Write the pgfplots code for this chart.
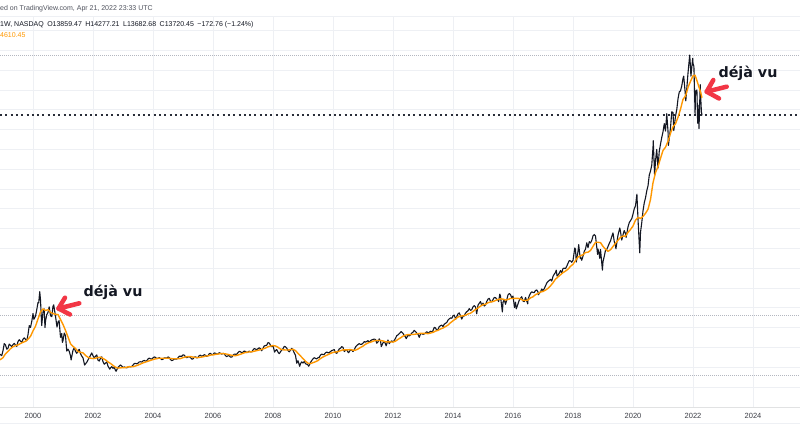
\documentclass[border=0pt]{standalone}
\usepackage{pgfplots}
\usepackage{pgfplotstable}
\pgfplotsset{compat=1.18}
\usepackage{fontspec}
\setmainfont{Liberation Sans}
\newfontfamily\annfont{DejaVu Sans}
\definecolor{tvblack}{RGB}{19,23,34}
\definecolor{tvorange}{RGB}{255,152,0}
\definecolor{tvred}{RGB}{242,54,69}
\definecolor{gridc}{RGB}{238,240,244}
\definecolor{dotgray}{RGB}{180,183,192}
\definecolor{labc}{RGB}{60,62,70}
\definecolor{hdrc}{RGB}{80,83,94}
\definecolor{pricec}{RGB}{42,46,57}

\pgfplotstableread{
t v
1998.833 1450
1998.875 1679
1998.917 1630
1998.958 1581
1999.000 1836
1999.042 2192
1999.083 2128
1999.125 1908
1999.167 1967
1999.208 2169
1999.250 2106
1999.292 2043
1999.333 2140
1999.375 2204
1999.417 2110
1999.458 2047
1999.500 2296
1999.542 2388
1999.583 2318
1999.625 2248
1999.667 2411
1999.708 2483
1999.750 2407
1999.792 2335
1999.833 2640
1999.875 3099
1999.917 3009
1999.958 3300
2000.000 3708
2000.030 3420
2000.083 3570
2000.125 3900
2000.167 4266
2000.190 4250
2000.225 4816
2000.250 4397
2000.290 3100
2000.333 3774
2000.370 3950
2000.400 3000
2000.417 3324
2000.458 3650
2000.500 3763
2000.540 4050
2000.583 3609
2000.625 3550
2000.667 4078
2000.690 4150
2000.750 3571
2000.800 3030
2000.833 3283
2000.870 3350
2000.917 2507
2000.958 2700
2000.980 2250
2001.000 2341
2001.042 2723
2001.083 2593
2001.125 1813
2001.167 1908
2001.208 1800
2001.250 1573
2001.270 1364
2001.333 1855
2001.375 1980
2001.417 1800
2001.458 1700
2001.500 1830
2001.542 1900
2001.583 1684
2001.625 1560
2001.667 1469
2001.720 1110
2001.750 1168
2001.792 1250
2001.833 1364
2001.875 1480
2001.917 1597
2001.958 1720
2002.000 1577
2002.042 1480
2002.083 1550
2002.125 1620
2002.167 1359
2002.208 1310
2002.250 1452
2002.292 1520
2002.333 1277
2002.375 1150
2002.417 1208
2002.458 1270
2002.500 1051
2002.560 900
2002.583 962
2002.625 1030
2002.667 942
2002.708 1000
2002.750 832
2002.770 795
2002.833 989
2002.875 1050
2002.917 1116
2002.958 1060
2003.000 984
2003.042 1010
2003.083 985
2003.125 970
2003.167 1005
2003.208 1037
2003.250 1018
2003.292 1035
2003.333 1106
2003.375 1181
2003.417 1197
2003.458 1169
2003.500 1201
2003.542 1269
2003.583 1274
2003.625 1262
2003.667 1315
2003.708 1342
2003.750 1303
2003.792 1326
2003.833 1416
2003.875 1456
2003.917 1424
2003.958 1410
2004.000 1468
2004.042 1518
2004.083 1494
2004.125 1434
2004.167 1448
2004.208 1479
2004.250 1438
2004.292 1384
2004.333 1401
2004.375 1470
2004.417 1467
2004.458 1454
2004.500 1516
2004.542 1486
2004.583 1383
2004.625 1335
2004.667 1355
2004.708 1418
2004.750 1412
2004.792 1408
2004.833 1475
2004.875 1553
2004.917 1554
2004.958 1548
2005.000 1621
2005.042 1609
2005.083 1519
2005.125 1477
2005.167 1511
2005.208 1534
2005.250 1483
2005.292 1414
2005.333 1417
2005.375 1508
2005.417 1525
2005.458 1471
2005.500 1493
2005.542 1588
2005.583 1605
2005.625 1552
2005.667 1579
2005.708 1630
2005.750 1601
2005.792 1549
2005.833 1577
2005.875 1680
2005.917 1700
2005.958 1631
2006.000 1645
2006.042 1718
2006.083 1706
2006.125 1649
2006.167 1675
2006.208 1731
2006.250 1703
2006.292 1659
2006.333 1700
2006.375 1681
2006.417 1579
2006.458 1538
2006.500 1575
2006.542 1581
2006.583 1510
2006.625 1511
2006.667 1590
2006.708 1663
2006.750 1654
2006.792 1653
2006.833 1736
2006.875 1802
2006.917 1779
2006.958 1724
2007.000 1757
2007.042 1818
2007.083 1791
2007.125 1735
2007.167 1767
2007.208 1814
2007.250 1772
2007.292 1775
2007.333 1868
2007.375 1940
2007.417 1918
2007.458 1878
2007.500 1934
2007.542 1982
2007.583 1933
2007.625 1830
2007.667 1958
2007.708 2076
2007.750 2092
2007.792 2111
2007.833 2238
2007.875 2222
2007.917 2098
2007.958 2040
2008.000 2085
2008.055 1760
2008.083 1842
2008.125 1891
2008.167 1760
2008.208 1682
2008.250 1781
2008.292 1870
2008.333 1932
2008.375 2050
2008.417 2030
2008.458 1960
2008.500 1837
2008.542 1780
2008.583 1860
2008.625 1950
2008.667 1865
2008.708 1720
2008.750 1597
2008.792 1200
2008.833 1329
2008.890 1043
2008.917 1180
2008.958 1270
2009.000 1212
2009.042 1290
2009.083 1176
2009.125 1150
2009.167 1106
2009.190 1050
2009.250 1237
2009.292 1340
2009.333 1418
2009.375 1480
2009.417 1442
2009.458 1420
2009.500 1477
2009.542 1500
2009.583 1612
2009.625 1660
2009.667 1633
2009.708 1650
2009.750 1724
2009.792 1770
2009.833 1725
2009.875 1730
2009.917 1792
2009.958 1840
2010.000 1860
2010.042 1890
2010.083 1741
2010.125 1700
2010.167 1813
2010.208 1920
2010.250 1957
2010.292 2040
2010.333 2002
2010.375 1790
2010.417 1858
2010.458 1890
2010.500 1756
2010.520 1730
2010.583 1876
2010.625 1860
2010.667 1791
2010.708 1880
2010.750 2019
2010.792 2090
2010.833 2145
2010.875 2190
2010.917 2149
2010.958 2160
2011.000 2218
2011.042 2290
2011.083 2266
2011.125 2300
2011.167 2340
2011.208 2260
2011.250 2338
2011.292 2380
2011.333 2402
2011.375 2420
2011.417 2398
2011.458 2210
2011.500 2279
2011.542 2430
2011.583 2315
2011.610 2040
2011.667 2233
2011.708 2300
2011.750 2180
2011.770 2080
2011.833 2371
2011.875 2190
2011.917 2283
2011.958 2330
2012.000 2278
2012.042 2350
2012.083 2459
2012.125 2590
2012.167 2635
2012.208 2700
2012.250 2755
2012.270 2800
2012.333 2712
2012.375 2600
2012.417 2524
2012.440 2440
2012.500 2615
2012.542 2580
2012.583 2632
2012.625 2720
2012.667 2772
2012.708 2860
2012.750 2800
2012.792 2720
2012.833 2660
2012.875 2510
2012.917 2677
2012.958 2700
2013.000 2661
2013.042 2680
2013.083 2731
2013.125 2790
2013.167 2738
2013.208 2760
2013.250 2818
2013.292 2780
2013.333 2848
2013.375 3010
2013.417 2986
2013.458 2860
2013.500 2910
2013.542 3050
2013.583 3094
2013.625 3130
2013.667 3051
2013.708 3170
2013.750 3218
2013.792 3260
2013.833 3372
2013.875 3440
2013.917 3488
2013.958 3470
2014.000 3592
2014.042 3630
2014.090 3420
2014.167 3698
2014.208 3740
2014.250 3596
2014.292 3430
2014.333 3572
2014.375 3590
2014.417 3735
2014.458 3800
2014.500 3849
2014.542 3960
2014.583 3871
2014.625 3900
2014.667 4052
2014.708 4110
2014.750 4050
2014.790 3700
2014.833 4131
2014.875 4230
2014.917 4317
2014.958 4120
2015.000 4236
2015.042 4090
2015.083 4150
2015.125 4320
2015.167 4439
2015.208 4480
2015.250 4333
2015.292 4300
2015.333 4415
2015.375 4520
2015.417 4509
2015.458 4440
2015.500 4397
2015.520 4310
2015.560 4690
2015.583 4589
2015.645 3790
2015.667 4274
2015.708 4420
2015.750 4181
2015.792 4400
2015.833 4648
2015.875 4720
2015.917 4664
2015.958 4500
2016.000 4593
2016.050 4010
2016.083 4280
2016.110 3950
2016.167 4202
2016.208 4380
2016.250 4484
2016.292 4560
2016.333 4341
2016.375 4310
2016.417 4524
2016.490 4200
2016.500 4418
2016.542 4600
2016.583 4731
2016.625 4810
2016.667 4772
2016.708 4770
2016.750 4875
2016.792 4900
2016.833 4801
2016.845 4660
2016.917 4810
2016.958 4950
2017.000 4864
2017.042 4970
2017.083 5107
2017.125 5250
2017.167 5331
2017.208 5380
2017.250 5436
2017.292 5350
2017.333 5584
2017.375 5700
2017.417 5788
2017.440 5900
2017.470 5600
2017.500 5647
2017.542 5750
2017.583 5880
2017.625 5760
2017.667 5988
2017.708 6000
2017.750 5979
2017.792 6100
2017.833 6248
2017.875 6380
2017.917 6368
2017.958 6300
2018.000 6397
2018.060 7020
2018.083 6950
2018.110 6310
2018.167 6855
2018.190 7190
2018.240 6500
2018.250 6581
2018.290 6400
2018.333 6605
2018.375 6850
2018.417 6967
2018.458 7280
2018.500 7040
2018.542 7340
2018.583 7272
2018.625 7400
2018.667 7632
2018.708 7700
2018.750 7628
2018.792 7050
2018.820 6700
2018.833 6968
2018.875 6700
2018.890 6500
2018.917 6949
2018.980 5900
2019.000 6330
2019.042 6600
2019.083 6906
2019.125 6950
2019.167 7097
2019.208 7250
2019.250 7378
2019.292 7600
2019.333 7781
2019.375 7350
2019.417 7128
2019.430 6980
2019.500 7671
2019.560 8030
2019.583 7848
2019.625 7420
2019.667 7692
2019.708 7900
2019.750 7750
2019.770 7550
2019.833 8084
2019.875 8300
2019.917 8403
2019.958 8500
2020.000 8733
2020.042 9000
2020.083 9150
2020.130 9736
2020.167 8462
2020.225 6771
2020.250 7813
2020.292 8300
2020.333 8890
2020.375 9300
2020.417 9555
2020.458 9900
2020.500 10157
2020.542 10700
2020.583 10905
2020.625 11200
2020.667 12110
2020.675 12440
2020.720 10680
2020.750 11418
2020.790 12000
2020.833 11052
2020.875 11900
2020.917 12268
2020.958 12600
2021.000 12888
2021.042 13300
2021.083 12925
2021.125 13800
2021.167 12909
2021.180 12200
2021.250 13091
2021.292 13900
2021.333 13860
2021.360 12950
2021.417 13687
2021.458 14000
2021.500 14554
2021.542 14900
2021.583 14959
2021.625 15200
2021.667 15583
2021.690 15700
2021.750 14689
2021.760 14450
2021.833 15850
2021.890 16764
2021.917 16135
2021.930 15700
2021.990 16600
2022.000 16320
2022.030 16200
2022.070 13730
2022.083 14930
2022.130 15000
2022.155 13320
2022.167 14237
2022.200 13050
2022.240 15265
2022.250 14839
2022.280 13900
2022.300 13720
}\pricedata

\pgfplotstableread{
t v
1998.833 1333
1998.917 1391
1999.000 1480
1999.083 1678
1999.167 1802
1999.250 1933
1999.333 2035
1999.417 2090
1999.500 2124
1999.583 2194
1999.667 2255
1999.750 2308
1999.833 2414
1999.917 2557
2000.000 2835
2000.083 3067
2000.167 3439
2000.250 3790
2000.333 3943
2000.417 3866
2000.500 3905
2000.583 3773
2000.667 3710
2000.750 3669
2000.833 3661
2000.917 3410
2001.000 3156
2001.083 2859
2001.167 2526
2001.250 2184
2001.333 2054
2001.417 1946
2001.500 1793
2001.583 1748
2001.667 1728
2001.750 1590
2001.833 1503
2001.917 1456
2002.000 1435
2002.083 1451
2002.167 1489
2002.250 1507
2002.333 1443
2002.417 1369
2002.500 1269
2002.583 1190
2002.667 1088
2002.750 999
2002.833 955
2002.917 968
2003.000 973
2003.083 981
2003.167 1016
2003.250 1022
2003.333 1020
2003.417 1062
2003.500 1105
2003.583 1159
2003.667 1219
2003.750 1258
2003.833 1302
2003.917 1346
2004.000 1385
2004.083 1421
2004.167 1450
2004.250 1454
2004.333 1450
2004.417 1450
2004.500 1454
2004.583 1441
2004.667 1424
2004.750 1427
2004.833 1428
2004.917 1436
2005.000 1483
2005.083 1516
2005.167 1536
2005.250 1538
2005.333 1510
2005.417 1491
2005.500 1486
2005.583 1505
2005.667 1524
2005.750 1561
2005.833 1571
2005.917 1612
2006.000 1620
2006.083 1646
2006.167 1661
2006.250 1686
2006.333 1686
2006.417 1673
2006.500 1646
2006.583 1613
2006.667 1591
2006.750 1582
2006.833 1613
2006.917 1654
2007.000 1703
2007.083 1743
2007.167 1766
2007.250 1773
2007.333 1791
2007.417 1823
2007.500 1852
2007.583 1885
2007.667 1922
2007.750 1967
2007.833 2031
2007.917 2064
2008.000 2094
2008.083 2071
2008.167 2005
2008.250 1913
2008.333 1880
2008.417 1869
2008.500 1868
2008.583 1888
2008.667 1905
2008.750 1838
2008.833 1698
2008.917 1566
2009.000 1437
2009.083 1299
2009.167 1201
2009.250 1182
2009.333 1230
2009.417 1276
2009.500 1336
2009.583 1437
2009.667 1516
2009.750 1578
2009.833 1634
2009.917 1697
2010.000 1747
2010.083 1768
2010.167 1786
2010.250 1833
2010.333 1875
2010.417 1874
2010.500 1877
2010.583 1890
2010.667 1857
2010.750 1860
2010.833 1917
2010.917 1996
2011.000 2064
2011.083 2159
2011.167 2224
2011.250 2262
2011.333 2313
2011.417 2349
2011.500 2351
2011.583 2346
2011.667 2325
2011.750 2281
2011.833 2276
2011.917 2276
2012.000 2269
2012.083 2314
2012.167 2405
2012.250 2482
2012.333 2568
2012.417 2617
2012.500 2648
2012.583 2648
2012.667 2651
2012.750 2669
2012.833 2696
2012.917 2708
2013.000 2714
2013.083 2706
2013.167 2693
2013.250 2725
2013.333 2759
2013.417 2824
2013.500 2860
2013.583 2931
2013.667 2978
2013.750 3052
2013.833 3129
2013.917 3245
2014.000 3344
2014.083 3438
2014.167 3534
2014.250 3579
2014.333 3596
2014.417 3624
2014.500 3690
2014.583 3725
2014.667 3816
2014.750 3911
2014.833 3991
2014.917 4084
2015.000 4157
2015.083 4177
2015.167 4255
2015.250 4295
2015.333 4315
2015.417 4369
2015.500 4419
2015.583 4449
2015.667 4437
2015.750 4390
2015.833 4418
2015.917 4471
2016.000 4472
2016.083 4473
2016.167 4477
2016.250 4445
2016.333 4380
2016.417 4366
2016.500 4394
2016.583 4500
2016.667 4557
2016.750 4664
2016.833 4719
2016.917 4798
2017.000 4824
2017.083 4891
2017.167 4983
2017.250 5110
2017.333 5264
2017.417 5449
2017.500 5557
2017.583 5667
2017.667 5777
2017.750 5856
2017.833 5948
2017.917 6093
2018.000 6196
2018.083 6388
2018.167 6564
2018.250 6630
2018.333 6678
2018.417 6792
2018.500 6810
2018.583 6893
2018.667 7103
2018.750 7308
2018.833 7308
2018.917 7290
2019.000 7101
2019.083 6956
2019.167 6850
2019.250 6932
2019.333 7098
2019.417 7258
2019.500 7411
2019.583 7561
2019.667 7624
2019.750 7618
2019.833 7809
2019.917 7955
2020.000 8132
2020.083 8424
2020.167 8566
2020.250 8512
2020.333 8610
2020.417 8774
2020.500 8975
2020.583 9464
2020.667 10323
2020.750 10829
2020.833 11128
2020.917 11551
2021.000 11947
2021.083 12110
2021.167 12408
2021.250 12816
2021.333 13135
2021.417 13294
2021.500 13620
2021.583 14030
2021.667 14529
2021.750 14694
2021.833 15127
2021.917 15443
2022.000 15715
2022.070 15750
2022.167 15300
2022.250 14900
2022.300 14610
}\madata

\begin{document}
\begin{tikzpicture}[x=1bp,y=1bp]
\useasboundingbox (0,0) rectangle (800,445);
\fill[white] (0,0) rectangle (800,445);
\begin{axis}[
  at={(0bp,38bp)}, anchor=south west,
  width=800bp, height=391bp, scale only axis,
  xmin=1998.9, xmax=2025.567, ymin=-1010, ymax=18737,
  axis line style={draw=none},
  xtick={2000,2002,...,2024},
  xticklabels={2000,2002,2004,2006,2008,2010,2012,2014,2016,2018,2020,2022,2024},
  ytick={0,1000,...,18000},
  yticklabels={},
  scaled y ticks=false,
  major tick length=0pt,
  grid=major,
  major grid style={draw=gridc, line width=0.8bp},
  xticklabel style={font=\fontsize{7.5bp}{9bp}\selectfont, text=labc, anchor=center, yshift=-8.5bp, inner sep=0pt},
  clip=true,
]
\addplot[dotgray, line width=0.8bp, dash pattern=on 0.8bp off 1.2bp] coordinates {(1998.9,16753) (2025.567,16753)};
\addplot[dotgray, line width=0.8bp, dash pattern=on 0.8bp off 1.2bp] coordinates {(1998.9,3636) (2025.567,3636)};
\addplot[dotgray, line width=0.8bp, dash pattern=on 0.8bp off 1.2bp] coordinates {(1998.9,606) (2025.567,606)};
\addplot[pricec, line width=2bp, dash pattern=on 2bp off 3.3bp] coordinates {(1998.9,13720) (2025.567,13720)};
\addplot[tvblack, line width=1.1bp, line join=round] table[x=t, y=v] {\pricedata};
\addplot[tvorange, line width=1.4bp, line join=round] table[x=t, y=v] {\madata};
\end{axis}
% frame lines
\draw[gridc!70!gray!60, line width=0.8bp] (0,38) -- (800,38);
\draw[gridc, line width=0.8bp] (0,22) -- (800,22);
\draw[gridc, line width=0.6bp] (0,429) -- (800,429);
% header
\node[anchor=west, inner sep=0pt, text=hdrc, font=\fontsize{7bp}{8.5bp}\selectfont] at (0,436.7) {ed on TradingView.com, Apr 21, 2022 23:33 UTC};
\node[anchor=west, inner sep=0pt, text=tvblack, font=\fontsize{7bp}{8.5bp}\selectfont] at (0,420) {1W, NASDAQ\enspace O13859.47\enspace H14277.21\enspace L13682.68\enspace C13720.45\enspace −172.76 (−1.24\%)};
\node[anchor=west, inner sep=0pt, text=tvorange, font=\fontsize{7bp}{8.5bp}\selectfont] at (0,409.5) {4610.45};
% annotations
\node[anchor=base, inner sep=0pt, text=tvblack, font=\annfont\bfseries\fontsize{14.3bp}{16bp}\selectfont] at (113,148.3) {déjà vu};
\node[anchor=base, inner sep=0pt, text=tvblack, font=\annfont\bfseries\fontsize{14.3bp}{16bp}\selectfont] at (748,367.7) {déjà vu};
% arrows
\draw[tvred, line width=4.5bp, line cap=round, line join=round] (79.3,141.7) -- (58.5,136.5);
\draw[tvred, line width=4.5bp, line cap=round, line join=round] (65,147.3) -- (58.5,136.5) -- (70,130.5);
\draw[tvred, line width=4.5bp, line cap=round, line join=round] (726.7,358.3) -- (706.7,353.3);
\draw[tvred, line width=4.5bp, line cap=round, line join=round] (713.3,365) -- (706.7,353.3) -- (719,346.5);
\end{tikzpicture}
\end{document}
